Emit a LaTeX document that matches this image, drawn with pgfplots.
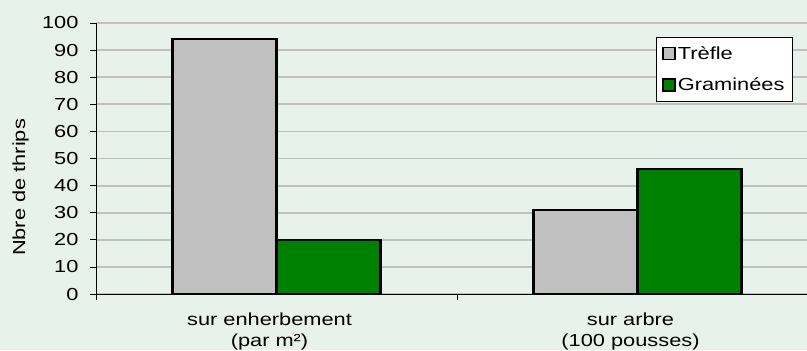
\documentclass[border=0pt]{standalone}
\usepackage{fontspec}
\setmainfont{Liberation Sans}[FakeStretch=1.25]
\usepackage{pgfplots}
\pgfplotsset{compat=1.18}
\definecolor{bg}{HTML}{E8F2EC}
\definecolor{gridc}{HTML}{C0C0C0}
\definecolor{trefle}{HTML}{C0C0C0}
\definecolor{gram}{HTML}{008000}
\begin{document}
\begin{tikzpicture}[x=1bp,y=1bp]
\fill[bg] (0,0) rectangle (807,350);
\useasboundingbox (0,0) rectangle (807,350);
\begin{axis}[
  at={(96bp,56bp)}, anchor=south west,
  scale only axis, width=711bp, height=271bp,
  xmin=-0.5, xmax=1.4695, ymin=0, ymax=100,
  ybar=0pt, bar width=0.288,
  axis x line*=bottom, axis y line*=left,
  axis line style={-, black, line width=0.8bp},
  ytick={0,10,...,100},
  xtick={0,1},
  xticklabels={{sur enherbement\\(par m²)},{sur arbre\\(100 pousses)}},
  minor xtick={-0.5,0.5,1.5},
  major x tick style={draw=none},
  tick align=outside,
  major tick length=6bp, minor tick length=6bp,
  tick style={black, line width=0.8bp},
  ymajorgrids, grid style={gridc, line width=1.8bp},
  /pgf/number format/assume math mode=true,
  tick label style={font=\fontsize{17.5}{21.5}\selectfont},
  x tick label style={align=center, yshift=-9bp, xshift=-7bp},
  y tick label style={xshift=-8bp},
  ylabel={Nbre de thrips},
  ylabel style={font=\fontsize{17.5}{18}\selectfont, at={(axis description cs:-0.106,0.393)}, anchor=center},
  legend style={at={(axis description cs:0.7876,0.948)}, anchor=north west,
    draw=black, line width=0.8bp, fill=white, font=\fontsize{17.5}{18}\selectfont,
    row sep=13bp, inner xsep=6bp, inner ysep=7bp},
  legend cell align=left,
  legend image code/.code={\draw[#1, draw=black, line width=1.5bp] (0bp,-6bp) rectangle (12bp,6bp);},
]
\addplot[fill=trefle, draw=black, line width=2.2bp] coordinates {(0,94) (1,31)};
\addplot[fill=gram, draw=black, line width=2.2bp] coordinates {(0,20) (1,46)};
\legend{Trèfle, Graminées}
\end{axis}
\end{tikzpicture}
\end{document}
